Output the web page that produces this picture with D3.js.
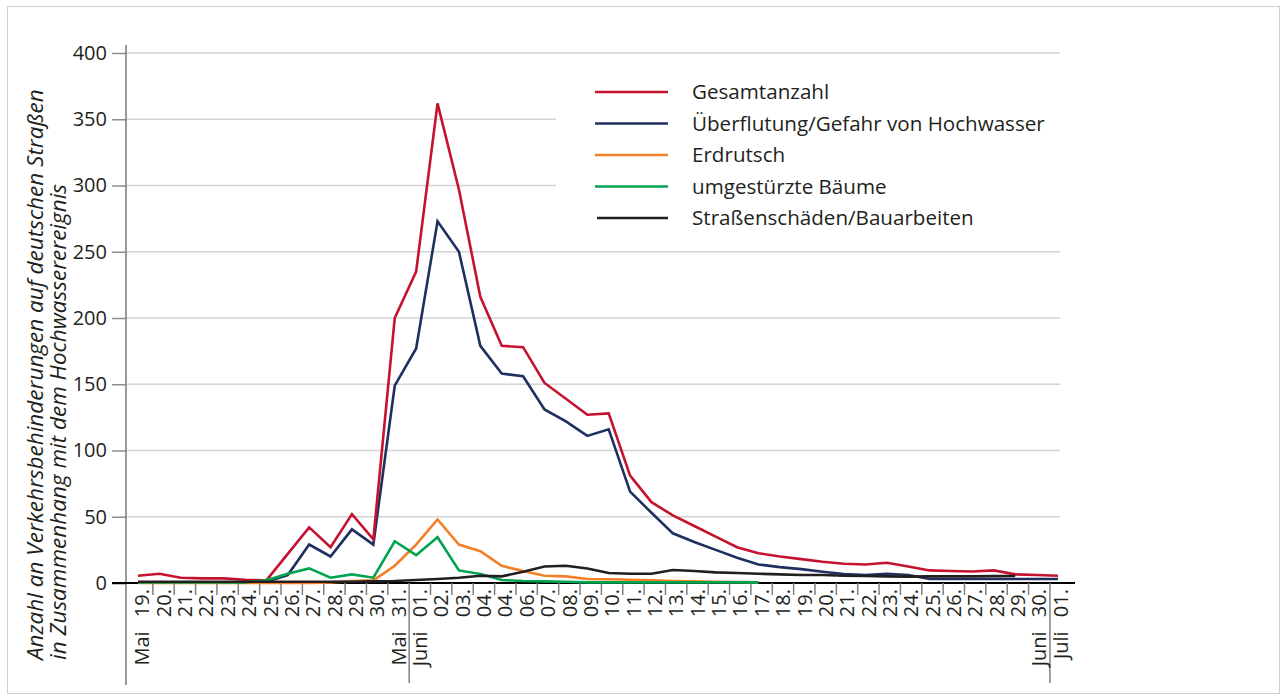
<!DOCTYPE html>
<html>
<head>
<meta charset="utf-8">
<script src="https://cdn.jsdelivr.net/npm/d3@7"></script>
<style>
  body { margin: 0; background: #fff; }
  svg { display: block; font-family: "Open Sans", "Liberation Sans", sans-serif; }
</style>
</head>
<body>
<svg id="chart" width="1286" height="700"></svg>
<script>
// x categories (tick labels as printed, incl. the duplicated "04.")
const dates = ["Mai 19.", "20.", "21.", "22.", "23.", "24.", "25.", "26.", "27.", "28.", "29.", "30.", "Mai 31.",
  "Juni 01.", "02.", "03.", "04.", "04.", "06.", "07.", "08.", "09.", "10.", "11.", "12.", "13.", "14.", "15.",
  "16.", "17.", "18.", "19.", "20.", "21.", "22.", "23.", "24.", "25.", "26.", "27.", "28.", "29.", "Juni 30.", "Juli 01."];

const gesamt = [5.5, 7, 4, 3.5, 3.5, 2.5, 2, 22, 42, 27, 52, 33,
  200, 235, 362, 297, 216, 179, 178, 151, 139, 127, 128, 81,
  61, 51, 43, 35, 27, 22.5, 20, 18, 16, 14.5, 14, 15.3,
  12.5, 9.5, 9, 8.7, 9.5, 6.5, 6, 5.5];
const ueberflutung = [0.5, 0.5, 0.5, 0.5, 0.5, 0.5, 1, 6, 29, 20, 40.5, 29,
  149, 177, 273, 250, 179, 158, 156, 131, 122, 111, 116, 69,
  53, 37.5, 31, 25, 19, 14, 12, 10.5, 8.5, 6.8, 6, 7,
  6, 3, 3, 3, 3, 3, 3, 3];
const erdrutsch = [0, 0, 0, 0, 0, 0, 0, 0, 0, 0.5, 1.5, 2,
  13, 29, 48, 29, 24, 13, 9, 5.5, 5, 3, 2.8, 2.5,
  2, 1.5, 1.2, 1, 0.8, 0.5];
const baeume = [0.5, 0.5, 0.5, 0.5, 0.5, 0.5, 2, 7, 11, 4, 6.5, 4,
  31.5, 21, 34.5, 9.5, 6.8, 2.3, 1.5, 1.2, 1, 0.5, 0.5, 0.5,
  0.5, 0.5, 0.5, 0.5, 0.5, 0.5];
const strassen = [1, 1, 1, 1, 1, 1, 1, 1, 1, 1, 1, 1.2,
  1.5, 2.3, 3, 4, 5.5, 5, 8.5, 12.5, 13, 11, 7.5, 7,
  7, 9.8, 9, 8, 7.5, 7, 6.5, 6, 6, 5.5, 5.3, 5,
  4.8, 5, 5, 5, 5.2, 5.3];

const yTicks = [0, 50, 100, 150, 200, 250, 300, 350, 400];

const series = [
  { name: "Überflutung/Gefahr von Hochwasser", values: ueberflutung, color: "#1f2f5f", order: 1 },
  { name: "Gesamtanzahl", values: gesamt, color: "#c5122e", order: 0 },
  { name: "Erdrutsch", values: erdrutsch, color: "#f47f26", order: 2 },
  { name: "umgestürzte Bäume", values: baeume, color: "#00a34f", order: 3 },
  { name: "Straßenschäden/Bauarbeiten", values: strassen, color: "#231f20", order: 4 }
];

const svg = d3.select("#chart");
const txt = "#231f20";

// outer frame
svg.append("rect")
  .attr("x", 7.5).attr("y", 6.5)
  .attr("width", 1272).attr("height", 687)
  .attr("fill", "none").attr("stroke", "#cfcfcf");

const idx = d3.range(dates.length);
const y = d3.scaleLinear().domain([0, 400]).range([583, 53]);
const xBand = d3.scaleBand().domain(idx).range([131.5, 1071.3]);
const xPt = d3.scalePoint().domain(idx).range([138, 1058]);

// grid
svg.append("g").selectAll("line")
  .data(yTicks.filter(d => d > 0))
  .join("line")
  .attr("x1", 126).attr("x2", 1060)
  .attr("y1", d => y(d)).attr("y2", d => y(d))
  .attr("stroke", "#d3d3d3").attr("stroke-width", 1.6);

// legend background cuts the grid
svg.append("rect")
  .attr("x", 556).attr("y", 68)
  .attr("width", 520).attr("height", 170)
  .attr("fill", "#fff");

// y axis
const yAxis = svg.append("g")
  .attr("transform", "translate(126,0)")
  .call(d3.axisLeft(y).tickValues(yTicks).tickSize(14).tickPadding(5));
yAxis.select(".domain").remove();
yAxis.selectAll(".tick line")
  .attr("stroke", d => d === 0 ? "#000" : "#8c8c8c")
  .attr("stroke-width", 1.5);
yAxis.selectAll(".tick text")
  .attr("font-family", "'Open Sans', 'Liberation Sans', sans-serif")
  .attr("font-size", 20)
  .attr("fill", txt);

svg.append("line")
  .attr("x1", 126).attr("x2", 126)
  .attr("y1", 45).attr("y2", 685)
  .attr("stroke", "#808080").attr("stroke-width", 1.6);

// x axis
svg.append("line")
  .attr("x1", 112).attr("x2", 1075)
  .attr("y1", y(0)).attr("y2", y(0))
  .attr("stroke", "#000").attr("stroke-width", 2);

const bw = xBand.bandwidth();
const bounds = idx.slice(0, -1);
svg.append("g").selectAll("line")
  .data(bounds)
  .join("line")
  .attr("x1", d => xBand(d) + bw).attr("x2", d => xBand(d) + bw)
  .attr("y1", y(0))
  .attr("y2", d => (d === 12 || d === 42) ? 683 : 595)
  .attr("stroke", "#808080").attr("stroke-width", 1.5);

svg.append("g").selectAll("text")
  .data(idx)
  .join("text")
  .attr("transform", d => `translate(${xBand(d) + bw / 2},589) rotate(-90)`)
  .attr("dy", "0.36em")
  .attr("text-anchor", "end")
  .attr("font-size", 20)
  .attr("word-spacing", 9)
  .attr("fill", txt)
  .text(d => dates[d]);

// lines
const line = d3.line()
  .x((d, i) => xPt(i))
  .y(d => y(d));

svg.append("g").selectAll("path")
  .data(series)
  .join("path")
  .attr("d", d => line(d.values))
  .attr("fill", "none")
  .attr("stroke", d => d.color)
  .attr("stroke-width", 2.6)
  .attr("stroke-linejoin", "miter");

// legend
const legend = svg.append("g").selectAll("g")
  .data(series.slice().sort((a, b) => a.order - b.order))
  .join("g")
  .attr("transform", (d, i) => `translate(0,${92 + i * 31.5})`);

legend.append("line")
  .attr("x1", (d, i) => i === 4 ? 597 : 595).attr("x2", 668)
  .attr("stroke", d => d.color).attr("stroke-width", 2.6);

legend.append("text")
  .attr("x", 692).attr("dy", "0.36em")
  .attr("font-size", 20.6)
  .attr("fill", txt)
  .text(d => d.name);

// y title
const yTitle = ["Anzahl an Verkehrsbehinderungen auf deutschen Straßen",
  "in Zusammenhang mit dem Hochwasserereignis"];
svg.append("g").selectAll("text")
  .data(yTitle)
  .join("text")
  .attr("transform", (d, i) => `translate(${35 + i * 23},660) rotate(-90)`)
  .attr("dy", "0.36em")
  .attr("font-size", 22.5)
  .attr("font-style", "italic")
  .attr("fill", txt)
  .text(d => d);
</script>
</body>
</html>
